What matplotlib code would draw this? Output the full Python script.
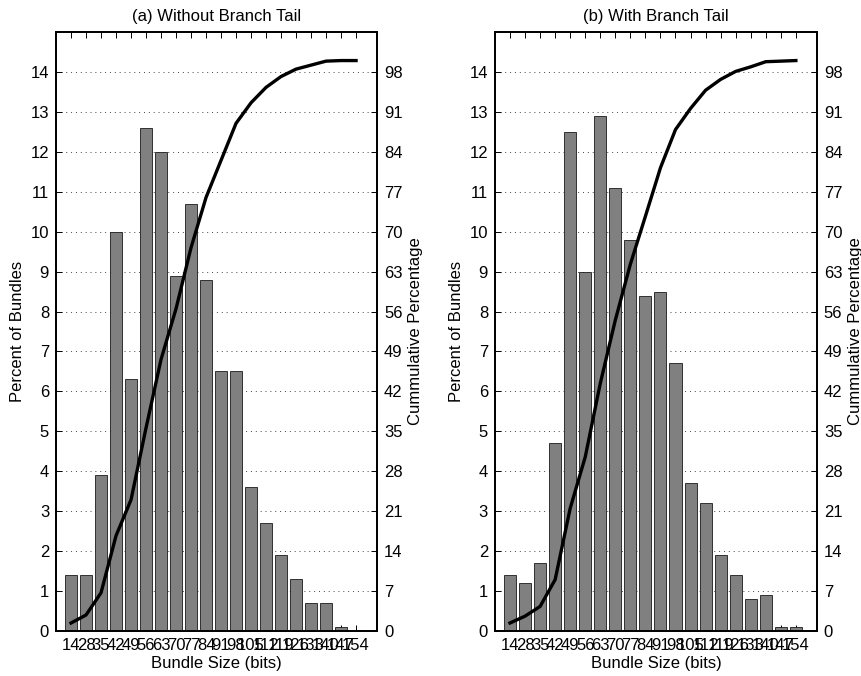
import matplotlib
matplotlib.use("Agg")
import matplotlib.pyplot as plt

plt.rcParams['font.family'] = ['Liberation Sans', 'DejaVu Sans']
plt.rcParams['font.size'] = 12

# bundle sizes (x tick labels)
sizes = ["14", "28", "35", "42", "49", "56", "63", "70", "77", "84",
         "91", "98", "105", "112", "119", "126", "133", "140", "147", "154"]

# (a) without branch tail
pct_a = [1.4, 1.4, 3.9, 10.0, 6.3, 12.6, 12.0, 8.9, 10.7, 8.8,
         6.5, 6.5, 3.6, 2.7, 1.9, 1.3, 0.7, 0.7, 0.1, 0.0]
cum_a = [1.4, 2.8, 6.7, 16.7, 23.0, 35.6, 47.6, 56.5, 67.2, 76.0,
         82.5, 89.0, 92.6, 95.3, 97.2, 98.5, 99.2, 99.9, 100.0, 100.0]

# (b) with branch tail
pct_b = [1.4, 1.2, 1.7, 4.7, 12.5, 9.0, 12.9, 11.1, 9.8, 8.4,
         8.5, 6.7, 3.7, 3.2, 1.9, 1.4, 0.8, 0.9, 0.1, 0.1]
cum_b = [1.4, 2.6, 4.3, 9.0, 21.5, 30.5, 43.4, 54.5, 64.3, 72.7,
         81.2, 87.9, 91.6, 94.8, 96.7, 98.1, 98.9, 99.8, 99.9, 100.0]

left_ticks = list(range(0, 15))
right_ticks = list(range(0, 99, 7))

fig = plt.figure(figsize=(8.62, 6.76), dpi=100)
ax_a = fig.add_axes([0.065, 0.0666, 0.3724, 0.886])
ax_b = fig.add_axes([0.5742, 0.0666, 0.3735, 0.886])


def draw(ax, pct, cum, title):
    x = list(range(1, len(pct) + 1))
    ax.bar(x, pct, width=0.8, color="#808080", edgecolor="#1a1a1a", linewidth=0.6, zorder=2)
    ax.set_xlim(0, 21.4)
    ax.set_ylim(0, 15)
    ax.set_yticks(left_ticks)
    ax.set_xticks(x)
    ax.set_xticklabels(sizes)
    ax.yaxis.grid(True, linestyle=(0, (1, 4)), color="#444444", linewidth=0.7, zorder=0)
    ax.tick_params(direction="in", length=4, width=0.7, top=True, right=False, pad=5)
    ax.set_title(title, fontsize=12, pad=8)
    ax.set_xlabel("Bundle Size (bits)", labelpad=2)
    ax.set_ylabel("Percent of Bundles", labelpad=4)

    ax2 = ax.twinx()
    ax2.plot(x, cum, color="black", linewidth=2.4, zorder=3)
    ax2.set_ylim(0, 105)
    ax2.set_yticks(right_ticks)
    ax2.tick_params(direction="in", length=4, width=0.7, pad=5)
    ax2.set_ylabel("Cummulative Percentage", labelpad=4)
    for a in (ax, ax2):
        for s in a.spines.values():
            s.set_linewidth(1.3)


draw(ax_a, pct_a, cum_a, "(a) Without Branch Tail")
draw(ax_b, pct_b, cum_b, "(b) With Branch Tail")

fig.savefig("out.png", dpi=100)
